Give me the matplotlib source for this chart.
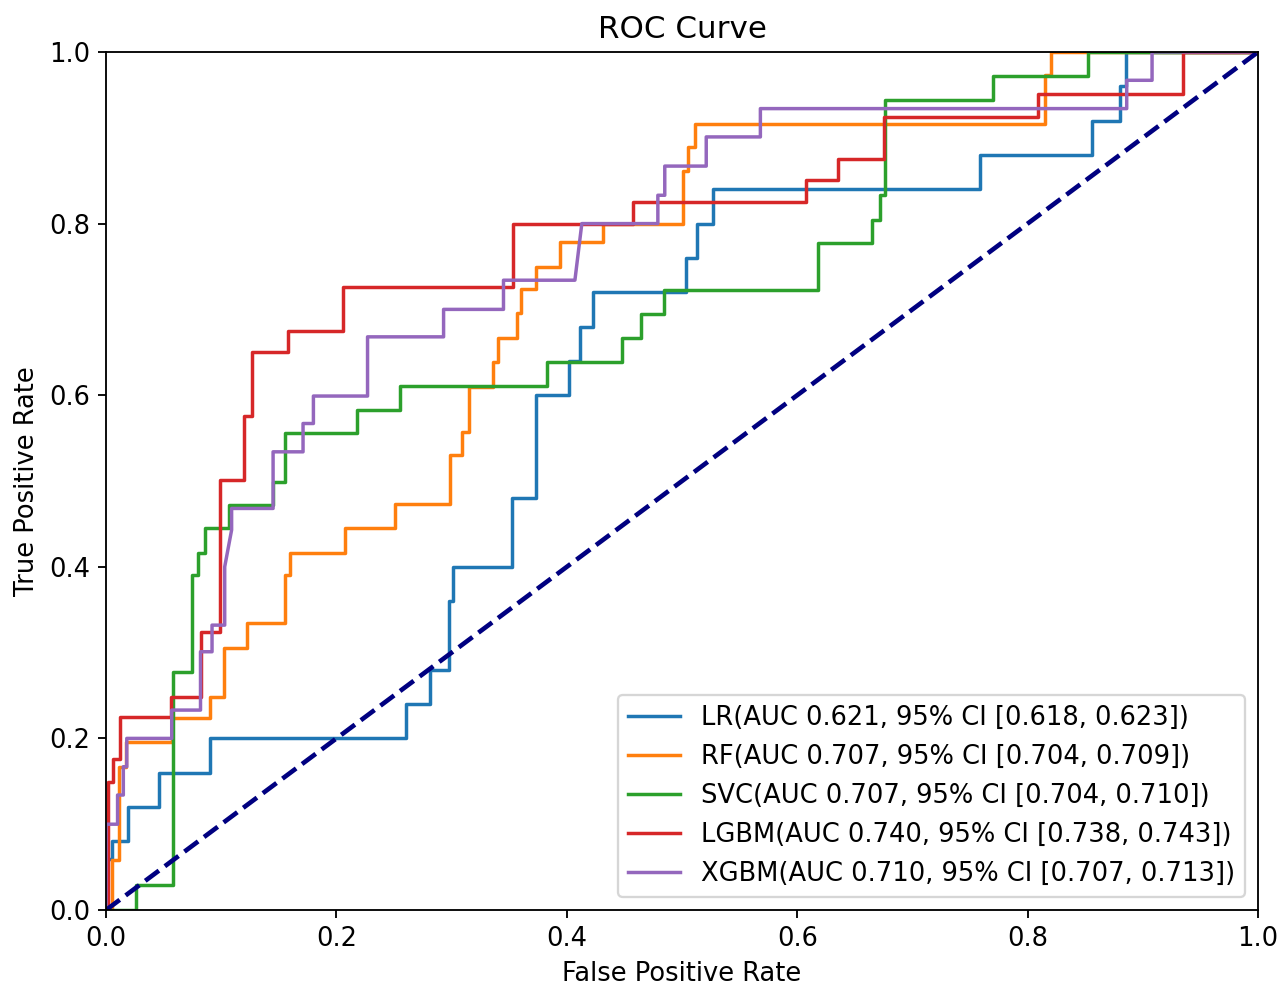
import numpy as np
import matplotlib.pyplot as plt

plt.rcParams['font.size'] = 11.2

# ROC corner points
lr_fpr = [0, 0, 0.005, 0.005, 0.019, 0.019, 0.046, 0.046, 0.090, 0.090, 0.260, 0.260,
          0.281, 0.281, 0.298, 0.298, 0.301, 0.301, 0.352, 0.352, 0.373, 0.373, 0.402, 0.402,
          0.411, 0.411, 0.423, 0.423, 0.503, 0.503, 0.513, 0.513, 0.527, 0.527, 0.759, 0.759,
          0.856, 0.856, 0.880, 0.880, 0.885, 0.885, 1.0]
lr_tpr = [0, 0.06, 0.06, 0.08, 0.08, 0.12, 0.12, 0.16, 0.16, 0.20, 0.20, 0.24,
          0.24, 0.28, 0.28, 0.36, 0.36, 0.40, 0.40, 0.48, 0.48, 0.60, 0.60, 0.64,
          0.64, 0.68, 0.68, 0.72, 0.72, 0.76, 0.76, 0.80, 0.80, 0.84, 0.84, 0.88,
          0.88, 0.92, 0.92, 0.96, 0.96, 1.0, 1.0]

rf_fpr = [0, 0.005, 0.005, 0.011, 0.011, 0.017, 0.017, 0.057, 0.057, 0.090, 0.090, 0.102,
          0.102, 0.122, 0.122, 0.155, 0.155, 0.160, 0.160, 0.207, 0.207, 0.251, 0.251, 0.299,
          0.299, 0.309, 0.309, 0.315, 0.315, 0.336, 0.336, 0.340, 0.340, 0.357, 0.357, 0.360,
          0.360, 0.373, 0.373, 0.394, 0.394, 0.431, 0.431, 0.501, 0.501, 0.505, 0.505, 0.511,
          0.511, 0.815, 0.815, 0.820, 0.820, 1.0]
rf_tpr = [0, 0, 0.058, 0.058, 0.167, 0.167, 0.196, 0.196, 0.224, 0.224, 0.248, 0.248,
          0.305, 0.305, 0.334, 0.334, 0.390, 0.390, 0.416, 0.416, 0.445, 0.445, 0.473, 0.473,
          0.530, 0.530, 0.557, 0.557, 0.610, 0.610, 0.639, 0.639, 0.667, 0.667, 0.696, 0.696,
          0.724, 0.724, 0.749, 0.749, 0.778, 0.778, 0.800, 0.800, 0.861, 0.861, 0.889, 0.889,
          0.916, 0.916, 0.973, 0.973, 1.0, 1.0]

svc_fpr = [0, 0.026, 0.026, 0.058, 0.058, 0.075, 0.075, 0.080, 0.080, 0.086, 0.086, 0.107,
           0.107, 0.145, 0.145, 0.155, 0.155, 0.218, 0.218, 0.255, 0.255, 0.383, 0.383, 0.448,
           0.448, 0.464, 0.464, 0.484, 0.484, 0.618, 0.618, 0.665, 0.665, 0.672, 0.672, 0.676,
           0.676, 0.770, 0.770, 0.852, 0.852, 1.0]
svc_tpr = [0, 0, 0.029, 0.029, 0.277, 0.277, 0.390, 0.390, 0.416, 0.416, 0.445, 0.445,
           0.472, 0.472, 0.499, 0.499, 0.556, 0.556, 0.583, 0.583, 0.611, 0.611, 0.639, 0.639,
           0.667, 0.667, 0.695, 0.695, 0.723, 0.723, 0.777, 0.777, 0.804, 0.804, 0.833, 0.833,
           0.944, 0.944, 0.972, 0.972, 1.0, 1.0]

lgbm_fpr = [0, 0.002, 0.002, 0.006, 0.006, 0.012, 0.012, 0.056, 0.056, 0.082, 0.082, 0.099,
            0.099, 0.120, 0.120, 0.127, 0.127, 0.158, 0.158, 0.206, 0.206, 0.353, 0.353, 0.457,
            0.457, 0.608, 0.608, 0.635, 0.635, 0.675, 0.675, 0.809, 0.809, 0.935, 0.935, 1.0]
lgbm_tpr = [0, 0, 0.149, 0.149, 0.176, 0.176, 0.225, 0.225, 0.248, 0.248, 0.324, 0.324,
            0.501, 0.501, 0.576, 0.576, 0.650, 0.650, 0.675, 0.675, 0.726, 0.726, 0.800, 0.800,
            0.825, 0.825, 0.851, 0.851, 0.875, 0.875, 0.924, 0.924, 0.951, 0.951, 1.0, 1.0]

xgbm_fpr = [0, 0, 0.010, 0.010, 0.015, 0.015, 0.018, 0.018, 0.057, 0.057, 0.082, 0.082,
            0.092, 0.092, 0.103, 0.103, 0.109, 0.109, 0.145, 0.145, 0.171, 0.171, 0.180, 0.180,
            0.227, 0.227, 0.293, 0.293, 0.345, 0.345, 0.407, 0.413, 0.479, 0.479, 0.485, 0.485,
            0.521, 0.521, 0.568, 0.568, 0.886, 0.886, 0.908, 0.908, 1.0]
xgbm_tpr = [0, 0.100, 0.100, 0.134, 0.134, 0.167, 0.167, 0.200, 0.200, 0.233, 0.233, 0.301,
            0.301, 0.332, 0.332, 0.400, 0.443, 0.468, 0.468, 0.534, 0.534, 0.567, 0.567, 0.599,
            0.599, 0.668, 0.668, 0.700, 0.700, 0.734, 0.734, 0.800, 0.800, 0.833, 0.833, 0.867,
            0.867, 0.901, 0.901, 0.934, 0.934, 0.967, 0.967, 1.0, 1.0]

labels = ['LR(AUC 0.621, 95% CI [0.618, 0.623])',
          'RF(AUC 0.707, 95% CI [0.704, 0.709])',
          'SVC(AUC 0.707, 95% CI [0.704, 0.710])',
          'LGBM(AUC 0.740, 95% CI [0.738, 0.743])',
          'XGBM(AUC 0.710, 95% CI [0.707, 0.713])']

curves = [(lr_fpr, lr_tpr), (rf_fpr, rf_tpr), (svc_fpr, svc_tpr),
          (lgbm_fpr, lgbm_tpr), (xgbm_fpr, xgbm_tpr)]

fig = plt.figure(figsize=(1287 / 166, 990 / 166), dpi=166)
ax = fig.add_subplot(111)
fig.subplots_adjust(left=0.0824, right=0.9775, bottom=0.0808, top=0.9475)

for (f, t), lab in zip(curves, labels):
    ax.plot(f, t, label=lab)

ax.plot([0, 1], [0, 1], color='navy', lw=2, linestyle='--')
ax.set_xlim([0.0, 1.0])
ax.set_ylim([0.0, 1.0])
ax.set_xlabel('False Positive Rate')
ax.set_ylabel('True Positive Rate')
ax.set_title('ROC Curve')
ax.legend(loc='lower right')

fig.savefig('out.png', dpi=166)
